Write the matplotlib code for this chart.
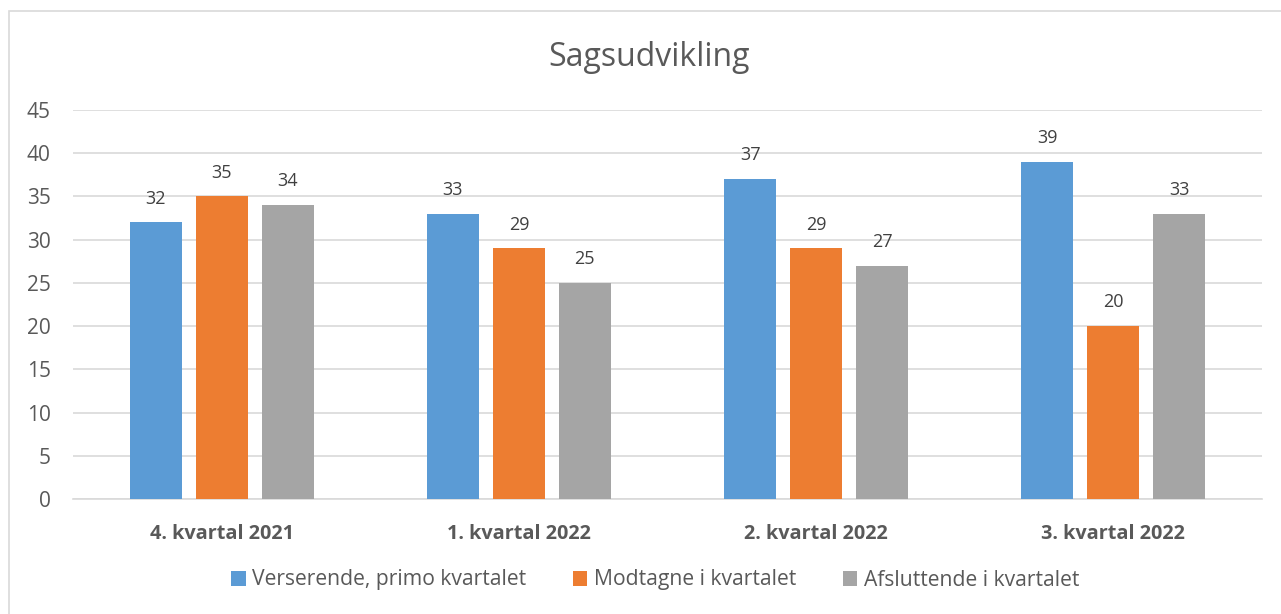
import numpy as np
import matplotlib.pyplot as plt
from matplotlib.patches import Rectangle

plt.rcParams['font.family'] = ['Open Sans', 'DejaVu Sans']

# data
categories = ['4. kvartal 2021', '1. kvartal 2022', '2. kvartal 2022', '3. kvartal 2022']
series_names = ['Verserende, primo kvartalet', 'Modtagne i kvartalet', 'Afsluttende i kvartalet']
verserende = [32, 33, 37, 39]
modtagne = [35, 29, 29, 20]
afsluttende = [34, 25, 27, 33]
colors = ['#5B9BD5', '#ED7D31', '#A5A5A5']

txt = '#595959'

fig = plt.figure(figsize=(12.81, 6.14), dpi=100)
# chart border (only left/top visible in the crop)
fig.patches.append(Rectangle((9 / 1281, -0.1), 1.2, (614 - 11) / 614 + 0.1,
                             transform=fig.transFigure, fill=False,
                             edgecolor='#D9D9D9', linewidth=1.2))

ax = fig.add_axes([73 / 1281, (614 - 499) / 614, (1262 - 73) / 1281, (499 - 110) / 614])

x = np.arange(len(categories))
width = 0.175
step = 0.222
for i, (vals, name) in enumerate(zip([verserende, modtagne, afsluttende], series_names)):
    bars = ax.bar(x + (i - 1) * step, vals, width, color=colors[i], label=name, zorder=3)
    for b, v in zip(bars, vals):
        ax.text(b.get_x() + b.get_width() / 2, v + 1.7, str(v), ha='center', va='bottom',
                fontsize=13, color='#404040')

ax.set_xlim(-0.5, len(categories) - 0.5)
ax.set_ylim(0, 45)
ax.set_yticks(range(0, 46, 5))
ax.yaxis.grid(True, color='#D9D9D9', linewidth=1.2, zorder=0)
for s in ['top', 'right', 'left']:
    ax.spines[s].set_visible(False)
ax.spines['bottom'].set_color('#D9D9D9')
ax.spines['bottom'].set_linewidth(1.2)
ax.tick_params(axis='both', length=0, colors=txt)
ax.tick_params(axis='y', pad=16, labelsize=15)
ax.tick_params(axis='x', pad=18)
ax.set_xticks(x)
ax.set_xticklabels(categories, fontweight='bold', fontsize=14.3, color=txt)

fig.text(649 / 1281, 1 - 57 / 614, 'Sagsudvikling', ha='center', va='center',
         fontsize=23, color=txt)

leg = fig.legend(loc='center', bbox_to_anchor=(655 / 1281, 1 - 580 / 614), ncol=3, frameon=False,
                 fontsize=15.2, handlelength=0.7, handleheight=0.7, handletextpad=0.3,
                 columnspacing=2.2)
for t in leg.get_texts():
    t.set_color(txt)

fig.savefig('out.png', dpi=100)
